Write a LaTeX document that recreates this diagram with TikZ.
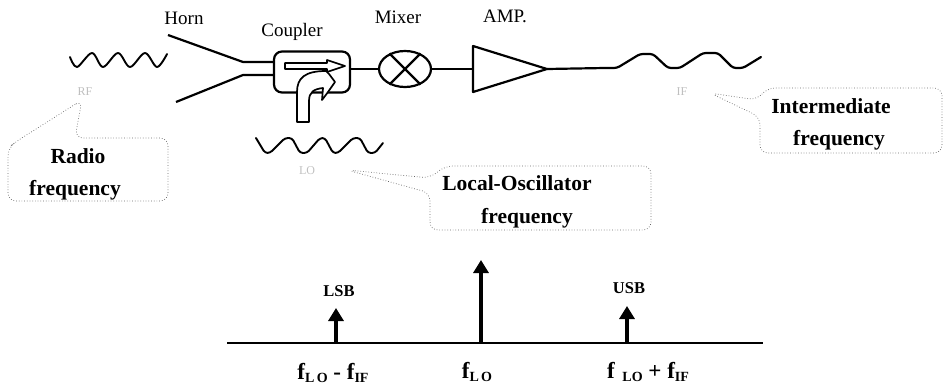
\documentclass[tikz,border=0pt]{standalone}
\usepackage{fontspec}
\setmainfont{Liberation Serif}
\usetikzlibrary{shapes.geometric,arrows.meta}
\tikzset{
    heavy/.style={line width=2.2pt,line join=round},
    wave/.style={line width=1.9pt,line join=round,line cap=round,rounded corners=3pt},
    calloutline/.style={draw=black!60,dotted,line width=0.7pt,rounded corners=8pt},
    namelabel/.style={font=\fontsize{19}{19}\selectfont,inner sep=0pt},
    boldlabel/.style={font=\fontsize{21.5}{21.5}\selectfont\bfseries,inner sep=0pt},
    bandlabel/.style={font=\fontsize{16.5}{16.5}\selectfont\bfseries,inner sep=0pt},
    freqlabel/.style={font=\fontsize{23}{23}\selectfont\bfseries,inner sep=0pt},
    faintlabel/.style={font=\fontsize{12}{12}\selectfont,text=black!25,inner sep=0pt},
    spike/.style={line width=3.2pt,-{Triangle[length=13pt,width=15pt]}}
}
\newcommand{\fsub}[1]{f\raisebox{-0.3ex}{\fontsize{14}{14}\selectfont #1}}
\begin{document}
\begin{tikzpicture}[x=1pt,y=-1pt]
        \useasboundingbox (0,0) rectangle (943,386);
        \draw[wave,rounded corners=0pt] plot[smooth,tension=0.55] coordinates {(70,57) (77,67) (92,53) (103,67) (118,53) (130,67) (145,53) (157,67) (167,54)};
        \node[faintlabel] (rf) at (85,92) {RF};
        \node[namelabel] (horn) at (184,18) {Horn};
        \node[namelabel] (coupler label) at (292,32) {Coupler};
        \node[namelabel] (mixer label) at (398,17) {Mixer};
        \node[namelabel] (amp label) at (505,16) {AMP.};
        \node[draw,heavy,rounded corners=8pt,minimum width=76pt,minimum height=41pt,inner sep=0pt] (coupler) at (312,72) {};
        \node[draw,heavy,ellipse,minimum width=52pt,minimum height=36pt,inner sep=0pt] (mixer) at (405,69) {};
        \draw[heavy] (mixer.45) -- (mixer.225);
        \draw[heavy] (mixer.135) -- (mixer.315);
        \coordinate (upper) at (coupler.west |- 0,62);
        \coordinate (lower) at (coupler.west |- 0,75);
        \draw[heavy] (168,35) -- (243,62) -- (upper);
        \draw[heavy] (176,102) -- (243,75) -- (lower);
        \draw[heavy,line width=1.7pt] (285,63) -- (327,63) -- (327,60) -- (345,66) -- (327,72) -- (327,69) -- (285,69) -- cycle;
        \draw[heavy,line width=1.7pt,fill=white] (297,122) -- (297,92) .. controls (297,78) and (305,71) .. (326,71) -- (329,74) -- (335,82) -- (328,92) -- (322,100) -- (323,88) .. controls (314,89) and (309,92) .. (309,101) -- (309,122) -- cycle;
        \coordinate (amp in) at (473,69);
        \coordinate (amp out) at (547,69);
        \draw[heavy] (473,46) -- (amp out) -- (473,92) -- cycle;
        \draw[heavy] (coupler.east |- mixer) -- (mixer.west);
        \draw[heavy] (mixer.east) -- (amp in);
        \draw[wave,line width=2.2pt] (amp out) -- (605,68) -- (617,68) -- (640,54) -- (653,54) -- (668,68) -- (680,68) -- (703,53) -- (718,53) -- (733,68) -- (743,68) -- (761,57);
        \draw[wave] (256,138) -- (265,153) -- (270,153) -- (285,138) -- (292,138) -- (300,153) -- (307,153) -- (320,138) -- (325,138) -- (333,153) -- (338,153) -- (353,138) -- (360,138) -- (368,153) -- (375,153) -- (383,143);
        \node[faintlabel] (lo) at (307,171) {LO};
        \node[faintlabel] (if) at (682,92) {IF};
        \draw[calloutline] (82,100) -- (17,141) -- (8,148) -- (8,201) -- (168,201) -- (168,138) -- (75,138) -- cycle;
        \draw[calloutline] (347,170) -- (430,178) -- (445,166) -- (651,166) -- (651,230) -- (430,230) -- (430,193) -- cycle;
        \draw[calloutline] (710,93) -- (757,100) -- (767,88) -- (942,88) -- (942,153) -- (760,153) -- (760,117) -- cycle;
        \node[boldlabel] (radio) at (78,156) {Radio};
        \node[boldlabel] (radio freq) at (75,190) {frequency};
        \node[boldlabel] (local) at (517,183) {Local-Oscillator};
        \node[boldlabel] (local freq) at (527,218) {frequency};
        \node[boldlabel] (inter) at (831,106) {Intermediate};
        \node[boldlabel] (inter freq) at (839,140) {frequency};
        \coordinate (axis left) at (227,343);
        \coordinate (axis right) at (763,343);
        \draw[line width=2.4pt] (axis left) -- (axis right);
        \coordinate (lsb foot) at (336,343);
        \coordinate (lo foot) at (481,343);
        \coordinate (usb foot) at (627,343);
        \draw[spike] (lsb foot) -- (336,308);
        \draw[spike] (lo foot) -- (481,260);
        \draw[spike] (usb foot) -- (627,306);
        \node[bandlabel] (lsb) at (339,291) {LSB};
        \node[bandlabel] (usb) at (629,288) {USB};
        \node[freqlabel] (lower band) at (333,373) {\fsub{L\,O} - \fsub{IF}};
        \node[freqlabel] (carrier) at (477,372) {\fsub{L\,O}};
        \node[freqlabel] (upper band) at (648,372) {f\,\,\raisebox{-0.3ex}{\fontsize{14}{14}\selectfont LO} + \fsub{IF}};
    \end{tikzpicture}
\end{document}
